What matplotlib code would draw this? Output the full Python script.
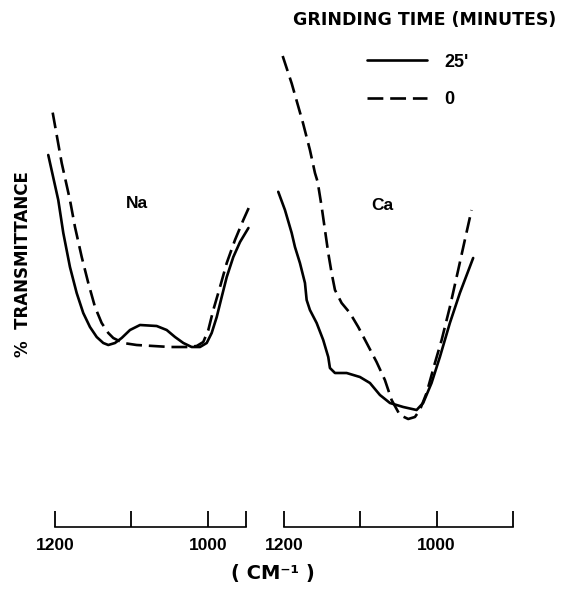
import matplotlib
matplotlib.use("Agg")
import matplotlib.pyplot as plt

plt.rcParams['font.family'] = ['Liberation Sans', 'DejaVu Sans']
plt.rcParams['font.weight'] = 'bold'

# ---- data (wavenumber cm^-1, % transmittance, arbitrary scale) ----
na_25_w = [1208.8, 1195.7, 1189.1, 1180.4, 1171.6, 1163.0, 1154.2, 1145.4, 1136.8, 1130.2,
           1121.5, 1112.7, 1101.8, 1088.7, 1066.9, 1053.8, 1042.9, 1032.0, 1021.1, 1010.2,
           1001.4, 994.9, 988.3, 981.8, 975.2, 966.6, 957.8, 946.8]
na_25_t = [93.0, 81.75, 73.5, 65.0, 58.5, 53.5, 50.0, 47.5, 46.0, 45.5,
           46.0, 47.25, 49.25, 50.5, 50.25, 49.25, 47.5, 46.0, 45.0, 45.0,
           46.0, 48.5, 52.5, 57.5, 62.5, 67.5, 71.25, 74.75]

na_0_w = [1203.0, 1191.2, 1180.4, 1173.8, 1165.0, 1156.4, 1147.6, 1138.9, 1130.2,
          1123.7, 1110.6, 1093.1, 1071.3, 1049.5, 1027.6, 1014.5, 1005.9, 999.3, 992.8,
          984.0, 975.2, 964.4, 953.5, 944.7]
na_0_t = [103.6, 91.0, 81.75, 75.0, 67.5, 61.0, 55.0, 51.0, 48.5,
          47.25, 46.0, 45.5, 45.25, 45.0, 45.0, 45.25, 46.25, 49.25, 54.25,
          60.0, 66.0, 71.75, 76.75, 80.5]

ca_25_w = [1207.5, 1198.7, 1189.9, 1185.6, 1179.1, 1172.5, 1170.3, 1166.0, 1157.2, 1148.6,
           1142.0, 1139.8, 1133.2, 1117.9, 1100.5, 1087.4, 1074.3, 1061.2, 1043.8, 1026.3,
           1017.7, 1006.7, 995.8, 982.7, 969.6, 952.2]
ca_25_t = [83.8, 79.25, 73.5, 70.0, 66.0, 61.0, 56.75, 54.25, 51.0, 46.75,
           42.5, 39.75, 38.5, 38.5, 37.5, 36.0, 33.0, 31.0, 30.0, 29.25,
           31.0, 36.0, 42.5, 51.0, 58.5, 67.25]

ca_0_w = [1201.7, 1189.9, 1175.1, 1166.0, 1159.4, 1155.9, 1150.6, 1146.3, 1142.0, 1137.6,
          1133.2, 1124.5, 1113.6, 1102.7, 1091.7, 1078.7, 1067.8, 1059.0, 1048.2, 1037.3,
          1028.5, 1022.0, 1013.2, 1002.3, 993.5, 982.7, 971.8, 963.1, 954.3]
ca_0_t = [117.75, 110.9, 101.0, 94.25, 88.5, 86.3, 80.0, 74.25, 68.5, 63.5,
          59.25, 56.0, 53.5, 50.0, 46.0, 41.25, 36.75, 31.75, 28.0, 27.0,
          27.5, 29.25, 33.5, 41.0, 46.75, 55.0, 64.25, 71.75, 79.25]

series_labels = ["25'", "0"]
panel_names = ["Na", "Ca"]
na_ticks = [1200, 1100, 1000, 950]
na_ticklabels = ["1200", "", "1000", ""]
ca_ticks = [1200, 1100, 1000, 900]
ca_ticklabels = ["1200", "", "1000", ""]

# ---- figure ----
W, H = 561, 591
fig = plt.figure(figsize=(W / 100, H / 100), dpi=100)

lw = 1.9
dash = (0, (6, 2.6))

def px(x0, y0, w, h):
    return [x0 / W, 1 - (y0 + h) / H, w / W, h / H]

ax1 = fig.add_axes(px(40, 40, 215, 487))
ax2 = fig.add_axes(px(270, 40, 255, 487))

ax1.set_xlim(1219.6, 938.2)
ax2.set_xlim(1218.3, 884.3)

kw_solid = dict(color='black', lw=lw, solid_joinstyle='round', solid_capstyle='round')
kw_dash = dict(color='black', lw=lw, linestyle=dash, dash_joinstyle='round')
l1, = ax1.plot(na_25_w, na_25_t, **kw_solid)
l2, = ax1.plot(na_0_w, na_0_t, **kw_dash)
ax2.plot(ca_25_w, ca_25_t, **kw_solid)
ax2.plot(ca_0_w, ca_0_t, **kw_dash)

for ax, ticks, labels, lo in [(ax1, na_ticks, na_ticklabels, 950),
                              (ax2, ca_ticks, ca_ticklabels, 900)]:
    ax.set_ylim(0, 121.75)
    for s in ['top', 'right', 'left']:
        ax.spines[s].set_visible(False)
    ax.spines['bottom'].set_bounds(lo, 1200)
    ax.spines['bottom'].set_linewidth(1.2)
    ax.set_yticks([])
    ax.set_xticks(ticks)
    ax.set_xticklabels(labels)
    ax.tick_params(axis='x', direction='in', length=11.5, width=1.3, pad=8,
                   labelsize=12.5)
    for t in ax.get_xticklabels():
        t.set_fontweight('bold')
    ax.patch.set_visible(False)

ax1.text(1092.7, 80.75, panel_names[0], ha='center', va='center',
         fontsize=12.5, fontweight='bold')
ax2.text(1071.7, 80.5, panel_names[1], ha='center', va='center',
         fontsize=12.5, fontweight='bold')

dv = ['DejaVu Sans']
fig.text(23 / W, 1 - 264 / H, "%  TRANSMITTANCE", rotation=90, ha='center',
         va='center', fontsize=12, fontweight='bold', family=dv)
fig.text(273 / W, 1 - 573 / H, "( CM\u207b\u00b9 )", ha='center', va='center',
         fontsize=14, fontweight='bold', family=dv)
fig.text(424.5 / W, 1 - 20 / H, "GRINDING TIME (MINUTES)", ha='center',
         va='center', fontsize=12.5, fontweight='bold', family=dv)

leg = fig.legend([l1, l2], series_labels, loc='center',
                 bbox_to_anchor=(418 / W, 1 - 81 / H), frameon=False,
                 fontsize=13, handlelength=3.3, handletextpad=1.0,
                 labelspacing=1.15, borderpad=0)
for t in leg.get_texts():
    t.set_fontweight('bold')

fig.savefig("out.png", dpi=100)
